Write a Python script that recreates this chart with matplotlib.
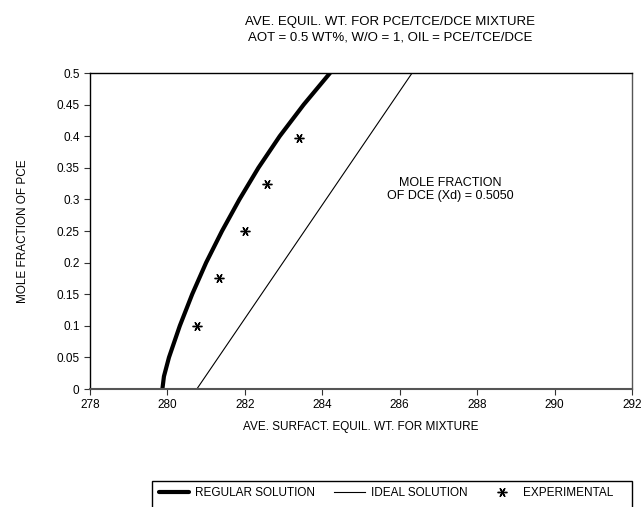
import matplotlib
matplotlib.use("Agg")
import matplotlib.pyplot as plt
from matplotlib.patches import Rectangle

plt.rcParams['font.family'] = ['Liberation Sans', 'DejaVu Sans']

# regular solution curve
reg_x = [279.87, 279.91, 280.04, 280.32, 280.64, 281.00, 281.41,
         281.86, 282.35, 282.90, 283.52, 284.20]
reg_y = [0.0, 0.02, 0.05, 0.1, 0.15, 0.2, 0.25,
         0.3, 0.35, 0.4, 0.45, 0.5]

# ideal solution line
ideal_x = [280.76, 286.32]
ideal_y = [0.0, 0.5]

# experimental points
exp_x = [280.76, 281.32, 282.00, 282.56, 283.41]
exp_y = [0.100, 0.175, 0.250, 0.325, 0.397]

x_ticks = [278, 280, 282, 284, 286, 288, 290, 292]
y_ticks = [0, 0.05, 0.1, 0.15, 0.2, 0.25, 0.3, 0.35, 0.4, 0.45, 0.5]

fig = plt.figure(figsize=(6.44, 5.07), dpi=100)
ax = fig.add_axes([90 / 644, 1 - 389 / 507, 542 / 644, 316 / 507])

h_reg, = ax.plot(reg_x, reg_y, color='black', lw=3.0, solid_capstyle='round',
                 solid_joinstyle='round')
h_ideal, = ax.plot(ideal_x, ideal_y, color='black', lw=0.8)
h_exp, = ax.plot(exp_x, exp_y, linestyle='none', marker=(6, 2, 90),
                 markersize=7, color='black', markeredgewidth=1.0)

ax.set_xlim(278, 292)
ax.set_ylim(0, 0.5)
ax.set_xticks(x_ticks)
ax.set_xticklabels([str(t) for t in x_ticks])
ax.set_yticks(y_ticks)
ax.set_yticklabels([f"{t:g}" for t in y_ticks])
ax.tick_params(direction='out', length=4, width=0.8, labelsize=8.5, color='#333333')
for side in ['left', 'right', 'top']:
    ax.spines[side].set_linewidth(1.0)
ax.spines['right'].set_color('#555555')
ax.spines['bottom'].set_color('#555555')
ax.spines['bottom'].set_linewidth(1.5)

ax.set_xlabel('AVE. SURFACT. EQUIL. WT. FOR MIXTURE', fontsize=8.5, labelpad=7)
ax.set_ylabel('MOLE FRACTION OF PCE', fontsize=8.5, labelpad=20)

ax.text(287.3, 0.316, 'MOLE FRACTION\nOF DCE (Xd) = 0.5050', ha='center',
        va='center', fontsize=9, linespacing=1.05)

fig.text(390 / 644, 1 - 22 / 507, 'AVE. EQUIL. WT. FOR PCE/TCE/DCE MIXTURE',
         ha='center', va='center', fontsize=9.5)
fig.text(390 / 644, 1 - 38 / 507, 'AOT = 0.5 WT%, W/O = 1, OIL = PCE/TCE/DCE',
         ha='center', va='center', fontsize=9.5)

# legend box (runs off the bottom of the figure)
fig.patches.append(Rectangle((152 / 644, -0.05), 480 / 644, 0.05 + 1 - 481 / 507,
                             transform=fig.transFigure, fill=False,
                             edgecolor='black', lw=1.0))
fig.legend([h_reg, h_ideal, h_exp],
           ['REGULAR SOLUTION', 'IDEAL SOLUTION', 'EXPERIMENTAL'],
           loc='center', bbox_to_anchor=(386 / 644, 1 - 493 / 507), ncol=3,
           frameon=False, fontsize=8.5, handlelength=2.6, columnspacing=1.6,
           handletextpad=0.5)

fig.savefig('out.png', dpi=100)
